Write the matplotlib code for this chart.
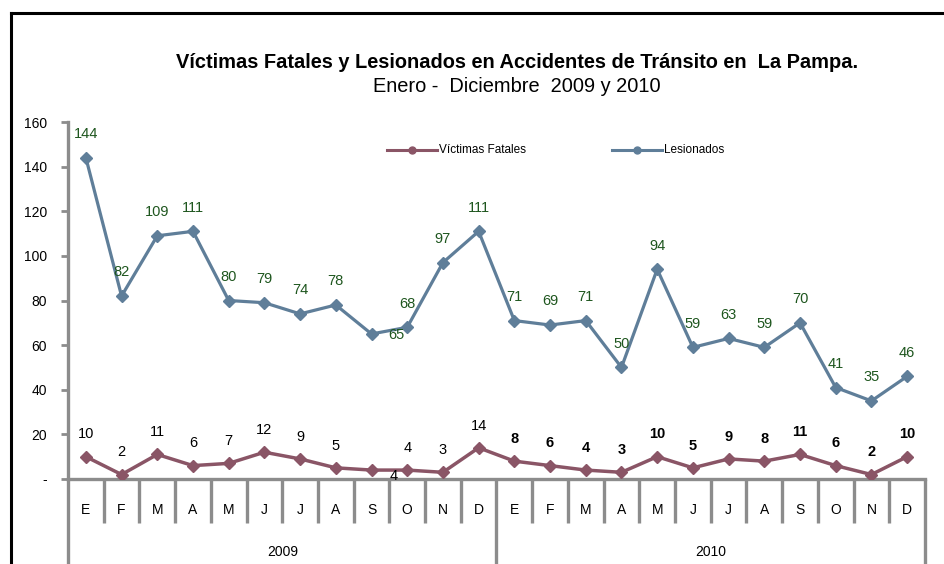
import matplotlib
matplotlib.use("Agg")
import matplotlib.pyplot as plt
from matplotlib.lines import Line2D

plt.rcParams['font.family'] = ['Liberation Sans', 'DejaVu Sans']

months = ["E", "F", "M", "A", "M", "J", "J", "A", "S", "O", "N", "D"] * 2
years = ["2009", "2010"]
fatales = [10, 2, 11, 6, 7, 12, 9, 5, 4, 4, 3, 14,
           8, 6, 4, 3, 10, 5, 9, 8, 11, 6, 2, 10]
lesionados = [144, 82, 109, 111, 80, 79, 74, 78, 65, 68, 97, 111,
              71, 69, 71, 50, 94, 59, 63, 59, 70, 41, 35, 46]
yticks = [0, 20, 40, 60, 80, 100, 120, 140, 160]
ytick_labels = ["-", "20", "40", "60", "80", "100", "120", "140", "160"]

C_FAT = "#8A5566"
C_LES = "#5F7E99"
C_GRN = "#1E561E"
C_AX = "#8C8C8C"

W, H = 944, 564
fig = plt.figure(figsize=(W / 100, H / 100), dpi=100)
ax = fig.add_axes([68 / W, (H - 479) / H, (925 - 68) / W, (479 - 122) / H])

x = list(range(len(months)))
ax.plot(x, lesionados, color=C_LES, lw=2.3, marker="D", ms=6.5, zorder=3)
ax.plot(x, fatales, color=C_FAT, lw=2.5, marker="D", ms=6.5, zorder=3)

ax.set_xlim(-0.5, len(months) - 0.5)
ax.set_ylim(0, 160)
ax.set_yticks(yticks)
ax.set_yticklabels(ytick_labels, fontsize=10)
ax.set_xticks([])
for s in ["top", "right"]:
    ax.spines[s].set_visible(False)
for s in ["left", "bottom"]:
    ax.spines[s].set_color(C_AX)
    ax.spines[s].set_linewidth(2.4)
ax.tick_params(axis="y", direction="out", length=5, width=2, color=C_AX, pad=10)

LFS = 10.5
# data labels
for i, v in enumerate(lesionados):
    if i == 8:
        ax.annotate(str(v), (i, v), xytext=(18, -1), textcoords="offset points",
                    ha="center", va="center", fontsize=LFS, color=C_GRN)
    else:
        ax.annotate(str(v), (i, v), xytext=(0, 17), textcoords="offset points",
                    ha="center", va="center", fontsize=LFS, color=C_GRN)
for i, v in enumerate(fatales):
    bold = "bold" if i >= 12 else "normal"
    if i == 8:
        ax.annotate(str(v), (i, v), xytext=(16, -4), textcoords="offset points",
                    ha="center", va="center", fontsize=LFS, color="black")
    else:
        ax.annotate(str(v), (i, v), xytext=(0, 16), textcoords="offset points",
                    ha="center", va="center", fontsize=LFS, color="black",
                    fontweight=bold)

# category axis separators and labels
trans = ax.get_xaxis_transform()
axh = 479 - 122
short = -44 / axh
long_ = -100 / axh
for k in range(len(months) + 1):
    xb = k - 0.5
    y1 = long_ if k in (0, 12, 24) else short
    ax.plot([xb, xb], [0, y1], color=C_AX, lw=2.4, transform=trans,
            clip_on=False, solid_capstyle="butt")
for i, m in enumerate(months):
    ax.text(i, -31 / axh, m, transform=trans, ha="center", va="center", fontsize=10)
for j, yr in enumerate(years):
    ax.text(j * 12 + 5.5, -73 / axh, yr, transform=trans, ha="center",
            va="center", fontsize=10)

# legend (manual)
def leg(x0, color, label):
    fig.add_artist(Line2D([x0 / W, (x0 + 50) / W], [(H - 150) / H] * 2,
                          color=color, lw=2.2))
    fig.add_artist(Line2D([(x0 + 25) / W], [(H - 150) / H], color=color,
                          marker="o", ms=5))
    fig.text((x0 + 52) / W, (H - 150) / H, label, ha="left", va="center",
             fontsize=8.5)

leg(387, C_FAT, "Víctimas Fatales")
leg(612, C_LES, "Lesionados")

# titles
fig.text(517 / W, (H - 62) / H,
         "Víctimas Fatales y Lesionados en Accidentes de Tránsito en  La Pampa.",
         ha="center", va="center", fontsize=14.4, fontweight="bold")
fig.text(517 / W, (H - 86) / H, "Enero -  Diciembre  2009 y 2010",
         ha="center", va="center", fontsize=14.4)

# outer frame
fig.add_artist(Line2D([11 / W, 11 / W], [0, (H - 13) / H], color="black", lw=2.2))
fig.add_artist(Line2D([11 / W, 1], [(H - 13) / H] * 2, color="black", lw=2.2))

fig.savefig("out.png", dpi=100)
